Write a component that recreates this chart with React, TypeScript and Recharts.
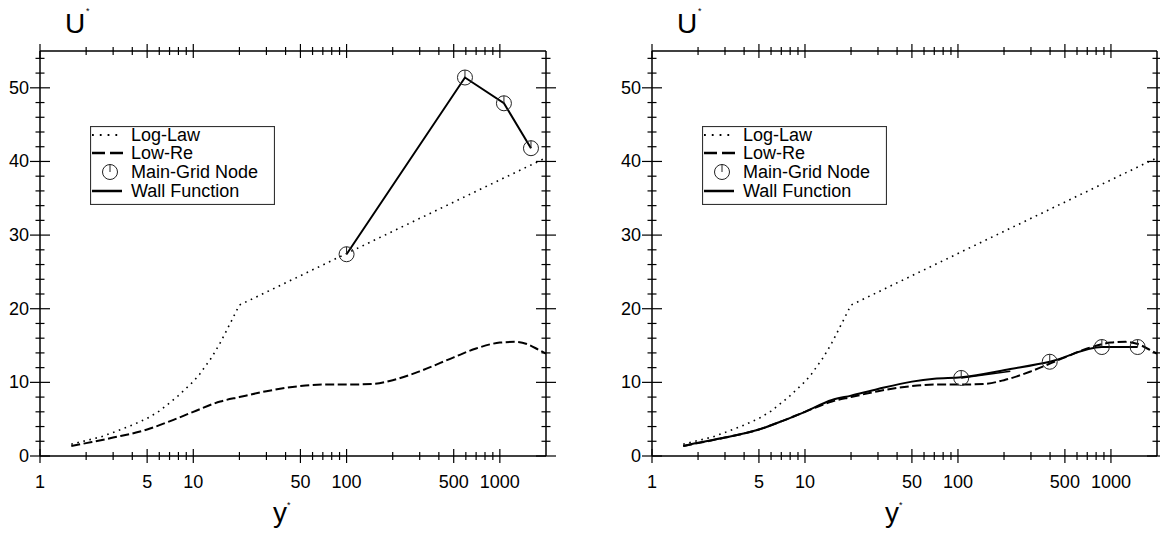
import React from 'react';
import { ComposedChart, Line, XAxis, YAxis, Legend } from 'recharts';

const FONT = "'Liberation Sans', Arial, Helvetica, sans-serif";

// ---------- tick definitions ----------
const xTicks = [1, 2, 3, 4, 5, 6, 7, 8, 9, 10, 20, 30, 40, 50, 60, 70, 80, 90, 100, 200, 300, 400, 500, 600, 700, 800, 900, 1000];
const xLabelTicks = [1, 5, 10, 50, 100, 500, 1000];
const yTicks = [0, 2, 4, 6, 8, 10, 12, 14, 16, 18, 20, 22, 24, 26, 28, 30, 32, 34, 36, 38, 40, 42, 44, 46, 48, 50, 52, 54];
const yLabelTicks = [0, 10, 20, 30, 40, 50];
const xDomain = [1, 2000];
const yDomain = [0, 55];

// ---------- series data ----------
const logLawX = [1.6, 2, 2.5, 3, 4, 5, 6, 7, 8, 9, 10, 11, 12, 13, 14, 15, 16, 17, 18, 19, 20, 100, 2000];
const logLawU = [1.6, 2.1, 2.6, 3.2, 4.2, 5.1, 6.1, 7.2, 8.2, 9.2, 10.1, 11.1, 12.2, 13.2, 14.3, 15.4, 16.5, 17.6, 18.6, 19.6, 20.5, 27.5, 40.5];

const lowReX = [1.6, 2, 3, 5, 7, 10, 15, 20, 30, 50, 70, 100, 150, 200, 300, 500, 700, 1000, 1250, 1500, 1800, 2000];
const lowReU = [1.35, 1.75, 2.5, 3.6, 4.7, 6.0, 7.4, 8.0, 8.8, 9.5, 9.7, 9.7, 9.8, 10.3, 11.5, 13.4, 14.6, 15.4, 15.5, 15.2, 14.4, 13.9];

// left panel: wall function through main-grid nodes
const leftWallX = [100, 592, 1063, 1596];
const leftWallU = [27.4, 51.4, 47.9, 41.8];

// right panel: wall function
const rightWallX = [1.6, 2, 3, 5, 7, 10, 15, 20, 30, 50, 70, 105, 220, 398, 872, 1494];
const rightWallU = [1.35, 1.8, 2.5, 3.6, 4.7, 6.0, 7.6, 8.2, 9.1, 10.1, 10.5, 10.7, 11.8, 12.8, 14.8, 14.8];
const rightWall2X = [105, 220];
const rightWall2U = [10.6, 11.5];
const rightNodeX = [105, 398, 872, 1494];
const rightNodeU = [10.6, 12.8, 14.8, 14.8];

const legendNames = ['Log-Law', 'Low-Re', 'Main-Grid Node', 'Wall Function'];

const toPts = (xs: number[], us: number[]) => xs.map((x, i) => ({ x, u: us[i] }));

const logLaw = toPts(logLawX, logLawU);
const lowRe = toPts(lowReX, lowReU);
const leftWall = toPts(leftWallX, leftWallU);
const rightWall = toPts(rightWallX, rightWallU);
const rightWall2 = toPts(rightWall2X, rightWall2U);
const rightNodes = toPts(rightNodeX, rightNodeU);

// ---------- marker ----------
const NodeMarker = (props: any) => {
  const { cx, cy } = props;
  if (cx == null || cy == null) return <g />;
  return (
    <g>
      <circle cx={cx} cy={cy} r={7.5} fill="none" stroke="#222" strokeWidth={1} />
      <line x1={cx} x2={cx} y1={cy - 7.5} y2={cy} stroke="#222" strokeWidth={1} />
    </g>
  );
};

// ---------- ticks ----------
const makeXTick = (withLabel: boolean) => (props: any) => {
  const { x, y, payload } = props;
  const v = payload.value;
  const major = xLabelTicks.includes(v);
  const len = major ? 7 : 4;
  return (
    <g>
      <line x1={x} x2={x} y1={y - len} y2={y + len} stroke="#000" strokeWidth={1.2} />
      {withLabel && major && (
        <text x={x} y={y + 26} textAnchor="middle" dominantBaseline="central" fontSize={18} fontFamily={FONT} fill="#000">
          {v}
        </text>
      )}
    </g>
  );
};

const makeYTick = (withLabel: boolean) => (props: any) => {
  const { x, y, payload } = props;
  const v = payload.value;
  const major = yLabelTicks.includes(v);
  const len = major ? 10 : 4.5;
  return (
    <g>
      <line x1={x - len} x2={x + len} y1={y} y2={y} stroke="#000" strokeWidth={1.2} />
      {withLabel && major && (
        <text x={x - 11} y={y} textAnchor="end" dominantBaseline="central" fontSize={18} fontFamily={FONT} fill="#000">
          {v}
        </text>
      )}
    </g>
  );
};

const xLabel = (props: any) => {
  const vb = props.viewBox || { x: 0, y: 0 };
  return (
    <g>
      <text x={vb.x + 240} y={vb.y + 66} textAnchor="middle" fontSize={28} fontFamily={FONT} fill="#000">y</text>
      <text x={vb.x + 247} y={vb.y + 52} textAnchor="start" fontSize={9} fontFamily={FONT} fill="#000">*</text>
    </g>
  );
};

const yLabel = (props: any) => {
  const vb = props.viewBox || { x: 0, y: 0, width: 0 };
  const px = vb.x + vb.width;
  return (
    <g>
      <text x={px + 35} y={vb.y - 18} textAnchor="middle" fontSize={28} fontFamily={FONT} fill="#000">U</text>
      <text x={px + 46} y={vb.y - 37} textAnchor="start" fontSize={9} fontFamily={FONT} fill="#000">*</text>
    </g>
  );
};

// ---------- legend ----------
const LegendBox = () => {
  const rows = [9, 27, 46, 65];
  return (
    <svg width={185} height={79} style={{ display: 'block' }}>
      <rect x={0.5} y={0.5} width={184} height={78} fill="#fff" stroke="#333" strokeWidth={1.2} />
      <line x1={2} x2={32} y1={rows[0]} y2={rows[0]} stroke="#000" strokeWidth={1.8} strokeDasharray="1.8 6" />
      <line x1={2} x2={34} y1={rows[1]} y2={rows[1]} stroke="#000" strokeWidth={2.5} strokeDasharray="13 5" />
      <NodeMarker cx={20} cy={rows[2]} />
      <line x1={2} x2={32} y1={rows[3]} y2={rows[3]} stroke="#000" strokeWidth={2.5} />
      {legendNames.map((n, i) => (
        <text key={n} x={41} y={rows[i]} dominantBaseline="central" fontSize={18} fontFamily={FONT} fill="#000">
          {n}
        </text>
      ))}
    </svg>
  );
};

type PanelProps = {
  left: number;
  right: number;
  legendLeft: number;
  children: React.ReactNode;
};

const Panel = ({ left, right, legendLeft, children }: PanelProps) => (
  <ComposedChart width={580} height={535} margin={{ top: 41, right: 0, bottom: 0, left: 0 }}>
    <XAxis
      xAxisId="b"
      dataKey="x"
      type="number"
      scale="log"
      domain={xDomain}
      allowDataOverflow
      ticks={xTicks}
      interval={0}
      orientation="bottom"
      height={79}
      tickSize={0}
      tickMargin={0}
      tickLine={false}
      axisLine={{ stroke: '#000', strokeWidth: 1.5 }}
      tick={makeXTick(true)}
      label={xLabel}
    />
    <XAxis
      xAxisId="t"
      dataKey="x"
      type="number"
      scale="log"
      domain={xDomain}
      allowDataOverflow
      ticks={xTicks}
      interval={0}
      orientation="top"
      height={10}
      tickSize={0}
      tickMargin={0}
      tickLine={false}
      axisLine={{ stroke: '#000', strokeWidth: 1.5 }}
      tick={makeXTick(false)}
    />
    <YAxis
      yAxisId="l"
      type="number"
      domain={yDomain}
      allowDataOverflow
      ticks={yTicks}
      interval={0}
      orientation="left"
      width={left}
      tickSize={0}
      tickMargin={0}
      tickLine={false}
      axisLine={{ stroke: '#000', strokeWidth: 1.5 }}
      tick={makeYTick(true)}
      label={yLabel}
    />
    <YAxis
      yAxisId="r"
      type="number"
      domain={yDomain}
      allowDataOverflow
      ticks={yTicks}
      interval={0}
      orientation="right"
      width={right}
      tickSize={0}
      tickMargin={0}
      tickLine={false}
      axisLine={{ stroke: '#000', strokeWidth: 1.5 }}
      tick={makeYTick(false)}
    />
    <Legend
      layout="horizontal"
      verticalAlign="middle"
      align="center"
      content={() => <LegendBox />}
      wrapperStyle={{ left: legendLeft, top: 126, width: 185, height: 79 }}
    />
    <Line
      xAxisId="b"
      yAxisId="l"
      data={logLaw}
      dataKey="u"
      type="linear"
      stroke="#000"
      strokeWidth={1.6}
      strokeDasharray="1.6 4.6"
      dot={false}
      activeDot={false}
      isAnimationActive={false}
      legendType="none"
    />
    <Line
      xAxisId="b"
      yAxisId="l"
      data={lowRe}
      dataKey="u"
      type="monotone"
      stroke="#000"
      strokeWidth={2}
      strokeDasharray="9 3.5"
      dot={false}
      activeDot={false}
      isAnimationActive={false}
      legendType="none"
    />
    {children}
  </ComposedChart>
);

export default function App() {
  return (
    <div style={{ position: 'absolute', left: 0, top: 0, width: 1160, height: 535, background: '#fff', display: 'flex' }}>
      <Panel left={40} right={34} legendLeft={90}>
        <Line
          xAxisId="b"
          yAxisId="l"
          data={leftWall}
          dataKey="u"
          type="linear"
          stroke="#000"
          strokeWidth={2}
          dot={<NodeMarker />}
          activeDot={false}
          isAnimationActive={false}
          legendType="none"
        />
      </Panel>
      <Panel left={72} right={3} legendLeft={122}>
        <Line
          xAxisId="b"
          yAxisId="l"
          data={rightWall}
          dataKey="u"
          type="monotone"
          stroke="#000"
          strokeWidth={2}
          dot={false}
          activeDot={false}
          isAnimationActive={false}
          legendType="none"
        />
        <Line
          xAxisId="b"
          yAxisId="l"
          data={rightWall2}
          dataKey="u"
          type="linear"
          stroke="#000"
          strokeWidth={1.4}
          dot={false}
          activeDot={false}
          isAnimationActive={false}
          legendType="none"
        />
        <Line
          xAxisId="b"
          yAxisId="l"
          data={rightNodes}
          dataKey="u"
          type="linear"
          stroke="none"
          dot={<NodeMarker />}
          activeDot={false}
          isAnimationActive={false}
          legendType="none"
        />
      </Panel>
    </div>
  );
}
